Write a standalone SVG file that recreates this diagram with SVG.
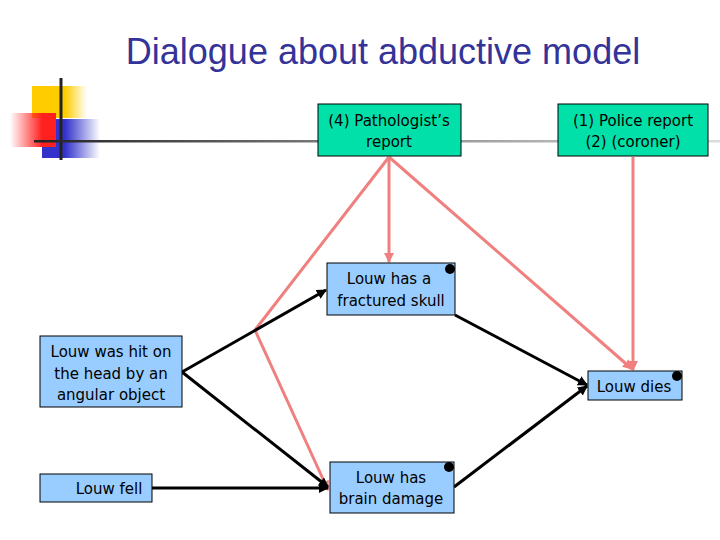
<svg xmlns="http://www.w3.org/2000/svg" width="720" height="540" viewBox="0 0 720 540">
<defs>
<linearGradient id="hl" x1="0" x2="1"><stop offset="0" stop-color="#222"/><stop offset="0.5" stop-color="#888"/><stop offset="1" stop-color="#ddd"/></linearGradient>
<linearGradient id="yg" x1="0" x2="1"><stop offset="0.6" stop-color="#ffcc00"/><stop offset="1" stop-color="#ffcc00" stop-opacity="0"/></linearGradient>
<linearGradient id="rg" x1="1" x2="0"><stop offset="0.3" stop-color="#ff2020"/><stop offset="1" stop-color="#ff2020" stop-opacity="0"/></linearGradient>
<linearGradient id="bg" x1="0" x2="1"><stop offset="0.4" stop-color="#3333cc"/><stop offset="1" stop-color="#3333cc" stop-opacity="0"/></linearGradient>
<marker id="ak" markerWidth="10" markerHeight="10" refX="9" refY="5" orient="auto" markerUnits="userSpaceOnUse"><path d="M0,0 L10,5 L0,10 z" fill="#000"/></marker>
<marker id="ar" markerWidth="10" markerHeight="10" refX="9" refY="5" orient="auto" markerUnits="userSpaceOnUse"><path d="M0,0 L10,5 L0,10 z" fill="#f08080"/></marker>
</defs>
<style>
text{font-family:Verdana,"DejaVu Sans",sans-serif;font-size:15px;fill:#000;text-anchor:middle}
.b{fill:#99ccff;stroke:#000;stroke-width:1}
.g{fill:#00e0a8;stroke:#000;stroke-width:1}
.k{stroke:#000;stroke-width:3;fill:none;marker-end:url(#ak)}
.r{stroke:#f08080;stroke-width:3;fill:none}
.ra{marker-end:url(#ar)}
.d{fill:#000}
</style>
<rect width="720" height="540" fill="#fff"/>
<g id="decor">
<rect x="32" y="86" width="55" height="32" fill="url(#yg)"/>
<rect x="42" y="119" width="58" height="39" fill="url(#bg)"/>
<rect x="10" y="113" width="46" height="34" fill="url(#rg)"/>
<line x1="61" y1="78" x2="61" y2="160" stroke="#222" stroke-width="3"/>
<rect x="34" y="140" width="686" height="2.5" fill="url(#hl)"/>
</g>
<text x="383" y="64" style="font-family:'Liberation Sans',Arial,sans-serif;font-size:36px;fill:#333399">Dialogue about abductive model</text>
<g id="connectors">
<line class="r ra" x1="389" y1="157" x2="389" y2="262"/>
<polyline class="r ra" points="389,157 255,330 328,490"/>
<line class="r ra" x1="389" y1="157" x2="632" y2="369"/>
<line class="r ra" x1="633" y1="157" x2="633" y2="370"/>
<line class="k" x1="182" y1="372" x2="326" y2="290"/>
<line class="k" x1="182" y1="372" x2="328" y2="487"/>
<line class="k" x1="152" y1="488" x2="328" y2="488"/>
<line class="k" x1="455" y1="315" x2="587" y2="385"/>
<line class="k" x1="454" y1="487" x2="587" y2="386"/>
</g>
<g id="n4"><rect class="g" x="318" y="104" width="143" height="52"/><text x="389" y="126">(4) Pathologist’s</text><text x="389" y="147">report</text></g>
<g id="n12"><rect class="g" x="558" y="104" width="150" height="52"/><text x="633" y="126">(1)  Police report</text><text x="633" y="147">(2)  (coroner)</text></g>
<g id="skull"><rect class="b" x="327" y="263" width="128" height="52"/><text x="389" y="284">Louw has a</text><text x="391" y="306">fractured skull</text><circle class="d" cx="450" cy="269" r="5"/></g>
<g id="hit"><rect class="b" x="40" y="336" width="142" height="71"/><text x="111" y="357">Louw was hit on</text><text x="111" y="379">the head by an</text><text x="111" y="400">angular object</text></g>
<g id="fell"><rect class="b" x="40" y="474" width="112" height="28"/><text x="109" y="494">Louw fell</text></g>
<g id="brain"><rect class="b" x="330" y="462" width="124" height="51"/><text x="391" y="483">Louw has</text><text x="391" y="504">brain damage</text><circle class="d" cx="449" cy="467" r="5"/></g>
<g id="dies"><rect class="b" x="588" y="371" width="94" height="29"/><text x="634" y="392">Louw dies</text><circle class="d" cx="677" cy="376" r="5"/></g>
</svg>
